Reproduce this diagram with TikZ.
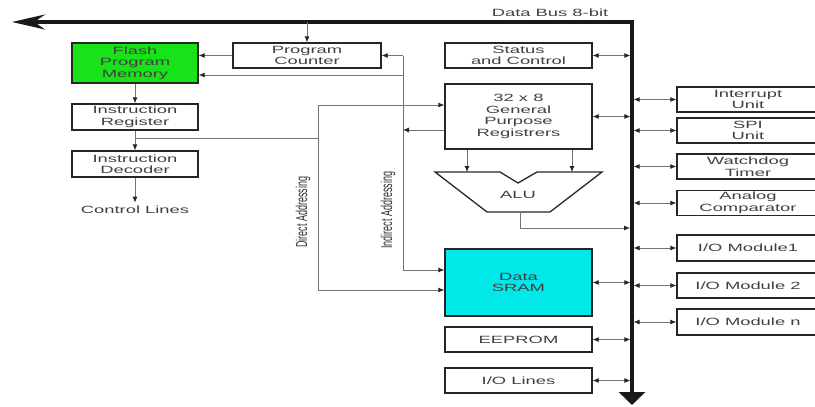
\documentclass[tikz,border=0pt]{standalone}
\usepackage{fontspec}
\setmainfont{Liberation Sans}[FakeStretch=1.75]
\newfontfamily\narrowfont{Liberation Sans}
\usetikzlibrary{arrows.meta}
\definecolor{flashgreen}{RGB}{24,226,24}
\definecolor{sramcyan}{RGB}{0,232,232}
\tikzset{
  blk/.style={draw=black!85, line width=1.3pt, inner sep=0pt, align=center, text=black!75, font=\fontsize{10.5}{11.5}\selectfont},
  lbl/.style={text=black!75, font=\fontsize{10.5}{11.5}\selectfont},
  vlbl/.style={text=black!80, inner sep=0pt},
  wire/.style={draw=black!55, line width=0.8pt},
  arr/.style={wire, -{Latex[length=6pt,width=5pt,color=black!85]}},
  biarr/.style={wire, {Latex[length=6pt,width=5pt,color=black!85]}-{Latex[length=6pt,width=5pt,color=black!85]}, shorten >=1.6pt},
  bus/.style={line width=3.5pt, black!90}
}
\begin{document}
\begin{tikzpicture}[x=1pt,y=-1pt]
  \useasboundingbox (0,0) rectangle (815,407);
  % data bus
  \coordinate (busleft) at (12,22);
  \coordinate (bustop) at (632,22);
  \coordinate (busbot) at (632,405);
  \draw[bus, {Stealth[length=33pt,width=15pt]}-{Triangle[length=13pt,width=26pt]}] (busleft) -- (bustop) -- (busbot);
  \node[lbl] (buslbl) at (550,13) {Data Bus 8-bit};

  % left column
  \node[blk, fill=flashgreen, minimum width=126, minimum height=40] (flash) at (135,63) {Flash\\Program\\Memory};
  \node[blk, minimum width=148, minimum height=25] (pc) at (307,55.5) {Program\\Counter};
  \node[blk, minimum width=126, minimum height=26] (ir) at (135,117) {Instruction\\Register};
  \node[blk, minimum width=126, minimum height=26] (id) at (135,164) {Instruction\\Decoder};
  \node[lbl] (ctrl) at (135,210) {Control Lines};

  % middle column
  \node[blk, minimum width=147, minimum height=25] (status) at (518.5,55.5) {Status\\and Control};
  \node[blk, minimum width=147, minimum height=65] (gpr) at (518.5,116.5) {32 x 8\\General\\Purpose\\Registrers};
  \draw[blk] (435,172) -- (500,172) -- (518,183) -- (537,172) -- (602,172) -- (550,212) -- (487,212) -- cycle;
  \node[lbl] (alu) at (518,195) {ALU};
  \node[blk, fill=sramcyan, minimum width=147, minimum height=67] (sram) at (518.5,282.5) {Data\\SRAM};
  \node[blk, minimum width=147, minimum height=25] (eeprom) at (518.5,339.5) {EEPROM};
  \node[blk, minimum width=147, minimum height=25] (iolines) at (518.5,380.5) {I/O Lines};

  % right column
  \node[blk, minimum width=142, minimum height=25] (intr) at (748,99.5) {Interrupt\\Unit};
  \node[blk, minimum width=142, minimum height=25] (spi) at (748,130.5) {SPI\\Unit};
  \node[blk, minimum width=142, minimum height=25] (wdt) at (748,166.5) {Watchdog\\Timer};
  \node[blk, minimum width=142, minimum height=25] (anacomp) at (748,203) {Analog\\Comparator};
  \node[blk, minimum width=142, minimum height=26] (iomodA) at (748,248) {I/O Module1};
  \node[blk, minimum width=142, minimum height=25] (iomodB) at (748,285.5) {I/O Module 2};
  \node[blk, minimum width=142, minimum height=26] (iomodN) at (748,322) {I/O Module n};

  % instruction path
  \draw[arr] (pc.north |- bustop) -- (pc.north);
  \draw[arr] (pc.west) -- (pc.west -| flash.east);
  \draw[arr] (flash) -- (ir);
  \draw[arr] (ir) -- (id);
  \draw[arr] (id) -- (ctrl);

  % direct addressing
  \coordinate (irtap) at (135,138);
  \coordinate (dirtop) at (318,105);
  \coordinate (dirbot) at (318,290);
  \draw[wire] (irtap) -- (irtap -| dirtop);
  \draw[arr] (dirbot) -- (dirtop) -- (dirtop -| gpr.west);
  \draw[arr] (dirbot) -- (dirbot -| sram.west);
  \node[vlbl] (dirlbl) at (303,212) {\rotatebox{90}{\scalebox{1}[1.75]{\narrowfont\fontsize{9}{10}\selectfont Direct Addressing}}};

  % indirect addressing
  \coordinate (indtop) at (403,55.5);
  \coordinate (indfl) at (403,75);
  \coordinate (indbot) at (403,270);
  \coordinate (gprout) at ([yshift=-13.5pt]gpr.west);
  \draw[wire] (indtop) -- (indbot);
  \draw[arr] (indtop) -- (pc.east);
  \draw[arr] (indfl) -- (indfl -| flash.east);
  \draw[arr] (gprout) -- (gprout -| indtop);
  \draw[arr] (indbot) -- (indbot -| sram.west);
  \node[vlbl] (indlbl) at (388,210) {\rotatebox{90}{\scalebox{1}[1.75]{\narrowfont\fontsize{9}{10}\selectfont Indirect Addressing}}};

  % registers and ALU
  \coordinate (alua) at (467,172);
  \coordinate (alub) at (572,172);
  \coordinate (aluout) at (520,212);
  \coordinate (alubus) at (630,228);
  \draw[arr] (gpr.south -| alua) -- (alua);
  \draw[arr] (gpr.south -| alub) -- (alub);
  \draw[arr] (aluout) |- (alubus);

  % bus connections
  \foreach \blkname in {status, gpr, sram, eeprom, iolines}
    \draw[biarr] (\blkname.east) -- (\blkname.east -| bustop);
  \foreach \blkname in {intr, spi, wdt, anacomp, iomodA, iomodB, iomodN}
    \draw[biarr] (\blkname.west) -- (\blkname.west -| bustop);
\end{tikzpicture}
\end{document}
